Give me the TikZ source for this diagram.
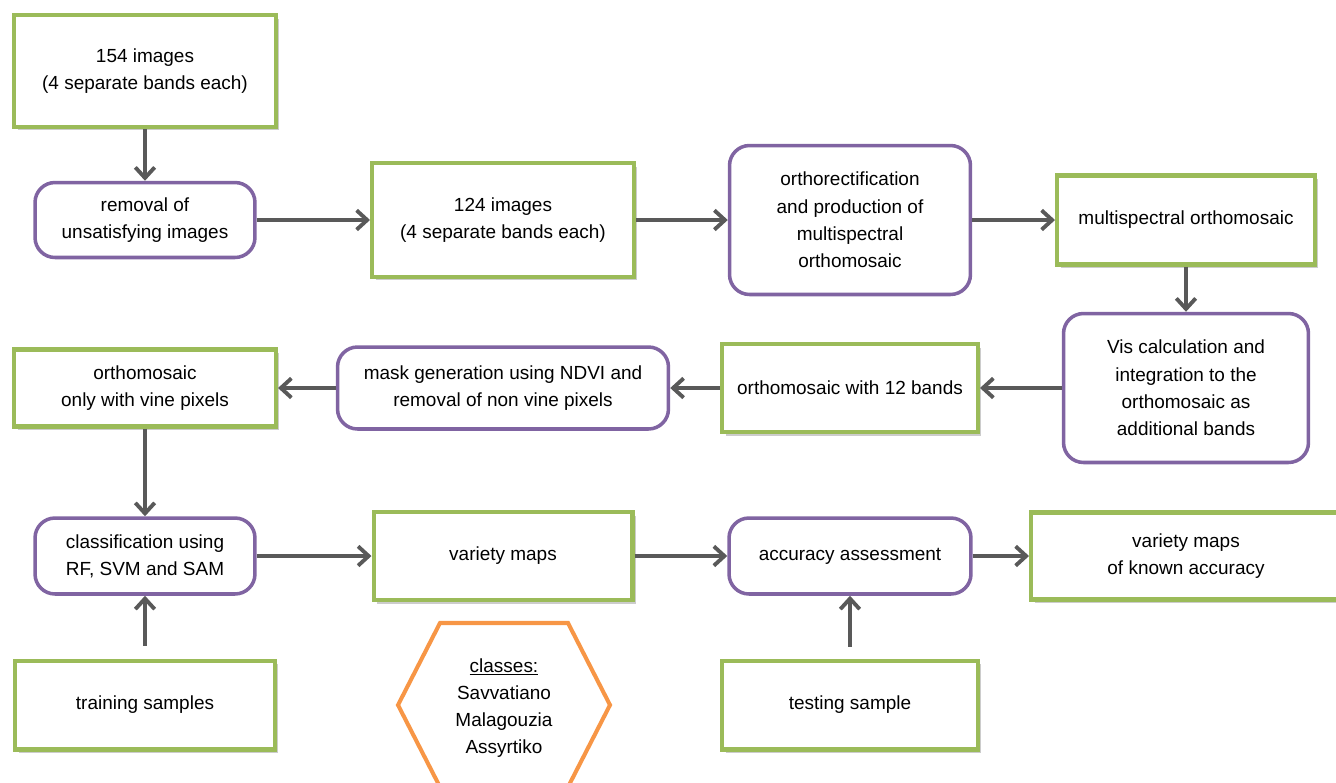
\documentclass[tikz,border=0pt]{standalone}
\usepackage{fontspec}
\setmainfont{Liberation Sans}
\usetikzlibrary{arrows.meta,shadows}
\definecolor{boxgreen}{RGB}{155,187,89}
\definecolor{boxpurple}{RGB}{128,100,162}
\definecolor{hexorange}{RGB}{247,150,70}
\definecolor{arrgray}{RGB}{89,89,89}
\tikzset{
	databox/.style={draw=boxgreen, line width=2.3pt, fill=white, align=center,
		drop shadow={shadow xshift=0.07cm, shadow yshift=-0.07cm, opacity=0.4}},
	procbox/.style={draw=boxpurple, line width=2pt, rounded corners=0.4cm, fill=white, align=center},
	flow/.style={draw=arrgray, line width=2.2pt, -{Straight Barb[length=6pt,width=11pt]}},
}
\begin{document}
\begin{tikzpicture}[x=0.02cm, y=-0.02cm, every node/.style={font=\fontsize{10.8}{15.5}\selectfont}]
		\useasboundingbox (0,0) rectangle (1336,782);
		\node[databox, minimum width=5.24cm, minimum height=2.24cm] (img154) at (145,71) {154 images\\(4 separate bands each)};
		\node[procbox, minimum width=4.4cm, minimum height=1.5cm] (removal) at (145,220) {removal of\\unsatisfying images};
		\node[databox, minimum width=5.24cm, minimum height=2.28cm] (img124) at (503,220) {124 images\\(4 separate bands each)};
		\node[procbox, minimum width=4.82cm, minimum height=2.98cm] (orthoproc) at (850,220) {orthorectification\\and production of\\multispectral\\orthomosaic};
		\node[databox, minimum width=5.16cm, minimum height=1.78cm] (multispec) at (1186,220) {multispectral orthomosaic};
		\node[procbox, minimum width=4.9cm, minimum height=2.98cm] (viscalc) at (1186,388) {Vis calculation and\\integration to the\\orthomosaic as\\additional bands};
		\node[databox, minimum width=5.12cm, minimum height=1.76cm] (bands12) at (850,388) {orthomosaic with 12 bands};
		\node[procbox, minimum width=6.62cm, minimum height=1.64cm] (maskgen) at (503,388) {mask generation using NDVI and\\removal of non vine pixels};
		\node[databox, minimum width=5.24cm, minimum height=1.54cm] (vineonly) at (145,388) {orthomosaic\\only with vine pixels};
		\node[procbox, minimum width=4.4cm, minimum height=1.52cm] (classif) at (145,556) {classification using\\RF, SVM and SAM};
		\node[databox, minimum width=5.18cm, minimum height=1.76cm] (varmaps) at (503,556) {variety maps};
		\node[procbox, minimum width=4.84cm, minimum height=1.52cm] (accuracy) at (850,556) {accuracy assessment};
		\node[databox, minimum width=6.2cm, minimum height=1.74cm] (knownacc) at (1186,556) {variety maps\\of known accuracy};
		\node[databox, minimum width=5.2cm, minimum height=1.78cm] (training) at (145,705) {training samples};
		\node[databox, minimum width=5.12cm, minimum height=1.78cm] (testing) at (850,705) {testing sample};
		\draw[hexorange, line width=2.3pt] (440,623) -- (568,623) -- (610,705) -- (568,787) -- (440,787) -- (398,705) -- cycle;
		\node[align=center] (classes) at (504,708) {\underline{classes:}\\Savvatiano\\Malagouzia\\Assyrtiko};
		\draw[flow] (img154) -- (removal);
		\draw[flow] (removal) -- (img124);
		\draw[flow] (img124) -- (orthoproc);
		\draw[flow] (orthoproc) -- (multispec);
		\draw[flow] (multispec) -- (viscalc);
		\draw[flow] (viscalc) -- (bands12);
		\draw[flow] (bands12) -- (maskgen);
		\draw[flow] (maskgen) -- (vineonly);
		\draw[flow] (vineonly) -- (classif);
		\draw[flow, shorten <=0.26cm] (training) -- (classif);
		\draw[flow] (classif) -- (varmaps);
		\draw[flow] (varmaps) -- (accuracy);
		\draw[flow] (accuracy) -- (knownacc);
		\draw[flow, shorten <=0.24cm] (testing) -- (accuracy);
	\end{tikzpicture}
\end{document}
